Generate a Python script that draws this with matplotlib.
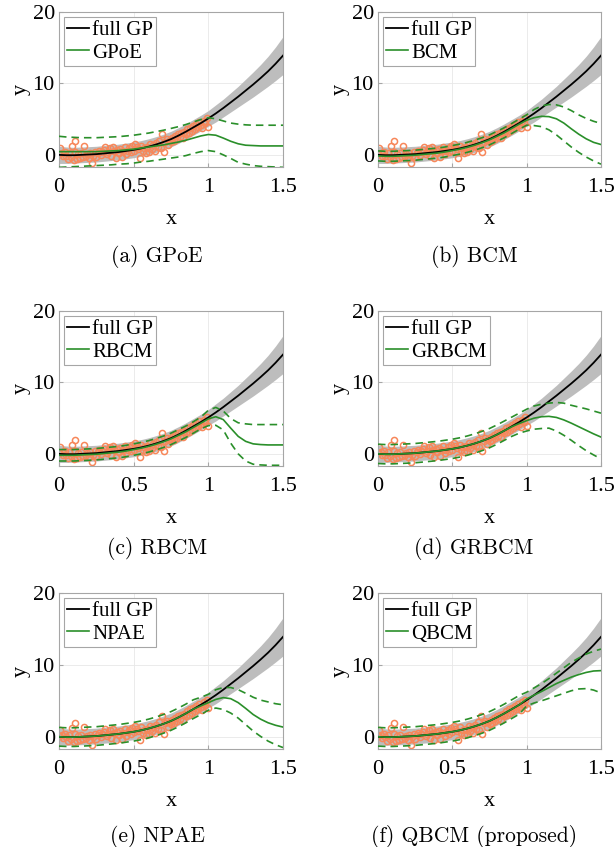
import numpy as np
import matplotlib.pyplot as plt
from matplotlib import font_manager

# prediction grid
xs = [0.0, 0.05, 0.1, 0.15, 0.2, 0.25, 0.3, 0.35, 0.4, 0.45, 0.5, 0.55, 0.6, 0.65, 0.7, 0.75,
      0.8, 0.85, 0.9, 0.95, 1.0, 1.05, 1.1, 1.15, 1.2, 1.25, 1.3, 1.35, 1.4, 1.45, 1.5]

# full GP
gp_mean = [0.0, -0.05, -0.05, 0.0, 0.05, 0.1, 0.2, 0.3, 0.4, 0.55, 0.7, 0.9, 1.15, 1.45, 1.8, 2.2,
           2.7, 3.25, 3.85, 4.45, 5.1, 5.8, 6.55, 7.35, 8.15, 9.0, 9.85, 10.75, 11.7, 12.75, 13.9]
gp_hi = [1.2, 1.1, 1.05, 1.1, 1.15, 1.2, 1.3, 1.4, 1.5, 1.65, 1.8, 2.0, 2.25, 2.55, 2.9, 3.3,
         3.8, 4.35, 4.95, 5.55, 6.2, 7.0, 7.8, 8.7, 9.6, 10.6, 11.6, 12.65, 13.8, 15.1, 16.55]
gp_lo = [-1.2, -1.2, -1.15, -1.1, -1.05, -1.0, -0.9, -0.8, -0.7, -0.55, -0.4, -0.2, 0.05, 0.35, 0.7, 1.1,
         1.6, 2.15, 2.75, 3.35, 4.0, 4.6, 5.3, 6.0, 6.7, 7.4, 8.1, 8.85, 9.6, 10.4, 11.25]

# training data
x_train = [0.0, 0.01, 0.02, 0.03, 0.04, 0.05, 0.06, 0.07, 0.08, 0.09, 0.1, 0.105, 0.11, 0.12, 0.13,
           0.14, 0.15, 0.16, 0.17, 0.18, 0.19, 0.2, 0.21, 0.22, 0.23, 0.24, 0.25, 0.26, 0.27, 0.28,
           0.29, 0.3, 0.31, 0.32, 0.33, 0.34, 0.35, 0.36, 0.37, 0.38, 0.39, 0.4, 0.41, 0.42, 0.43,
           0.44, 0.45, 0.46, 0.47, 0.48, 0.49, 0.5, 0.51, 0.52, 0.53, 0.54, 0.55, 0.56, 0.57, 0.58,
           0.59, 0.6, 0.61, 0.62, 0.63, 0.64, 0.65, 0.66, 0.67, 0.68, 0.69, 0.7, 0.71, 0.72, 0.73,
           0.74, 0.75, 0.76, 0.77, 0.78, 0.79, 0.8, 0.81, 0.82, 0.83, 0.84, 0.85, 0.86, 0.87, 0.88,
           0.89, 0.9, 0.91, 0.92, 0.93, 0.94, 0.95, 0.96, 0.97, 0.98, 0.99, 1.0]
y_train = [0.1, 0.95, 0.3, -0.2, 0.45, -0.1, -0.65, 0.25, -0.35, 1.25, -0.7, 1.95, 0.4, -0.55, 0.05,
           -0.4, 0.2, -0.3, 1.3, -0.2, 0.15, -0.45, 0.3, -1.2, -0.1, 0.45, -0.25, 0.2, 0.55, -0.05,
           0.4, 0.7, 1.1, 0.1, 0.45, 0.95, -0.15, 1.05, 0.5, -0.5, 0.7, 0.3, 0.85, -0.35, 0.55,
           1.15, 0.1, 0.6, 0.95, 0.4, 1.25, 0.6, 1.45, 1.1, 0.75, -0.45, 1.3, 0.55, 0.95, 0.3,
           1.05, 0.45, 1.5, 0.85, 1.35, 0.5, 1.65, 1.1, 2.0, 0.95, 2.95, 0.4, 1.85, 2.25, 1.4,
           2.1, 1.75, 2.4, 1.95, 2.65, 2.2, 2.9, 2.45, 3.0, 2.35, 3.2, 2.85, 3.55, 3.0, 3.8,
           3.3, 4.05, 3.6, 4.3, 3.9, 4.55, 4.2, 3.7, 4.8, 4.4, 5.1, 3.95]

# aggregation methods: mean, upper, lower
gpoe_m = [0.45, 0.45, 0.45, 0.45, 0.45, 0.45, 0.5, 0.55, 0.6, 0.7, 0.8, 0.95, 1.1, 1.25, 1.4, 1.6,
          1.8, 2.05, 2.35, 2.65, 2.85, 2.75, 2.35, 1.9, 1.55, 1.35, 1.3, 1.25, 1.25, 1.25, 1.25]
gpoe_u = [2.6, 2.5, 2.45, 2.4, 2.4, 2.4, 2.45, 2.5, 2.55, 2.65, 2.75, 2.9, 3.05, 3.25, 3.45, 3.7,
          3.95, 4.25, 4.6, 4.95, 5.2, 5.05, 4.75, 4.45, 4.3, 4.2, 4.15, 4.15, 4.15, 4.15, 4.15]
gpoe_l = [-1.75, -1.7, -1.65, -1.6, -1.55, -1.5, -1.45, -1.4, -1.3, -1.25, -1.15, -1.0, -0.9, -0.75, -0.6, -0.45,
          -0.3, -0.1, 0.2, 0.45, 0.6, 0.45, 0.0, -0.5, -1.05, -1.3, -1.5, -1.6, -1.65, -1.7, -1.75]

bcm_m = [-0.15, -0.2, -0.2, -0.15, -0.1, -0.05, 0.05, 0.15, 0.25, 0.4, 0.6, 0.8, 1.05, 1.35, 1.7, 2.1,
         2.6, 3.1, 3.7, 4.3, 4.85, 5.2, 5.4, 5.35, 5.05, 4.45, 3.65, 2.9, 2.25, 1.75, 1.45]
bcm_u = [0.55, 0.5, 0.5, 0.55, 0.6, 0.65, 0.75, 0.85, 0.95, 1.1, 1.3, 1.5, 1.75, 2.05, 2.4, 2.8,
         3.3, 3.8, 4.4, 5.0, 5.6, 6.35, 6.85, 7.05, 7.0, 6.7, 6.2, 5.6, 5.1, 4.7, 4.4]
bcm_l = [-0.85, -0.9, -0.9, -0.85, -0.8, -0.75, -0.65, -0.55, -0.45, -0.3, -0.1, 0.1, 0.35, 0.65, 1.0, 1.4,
         1.9, 2.4, 3.0, 3.6, 4.15, 4.1, 3.95, 3.5, 2.8, 1.95, 1.1, 0.35, -0.3, -0.85, -1.3]

rbcm_m = [-0.2, -0.2, -0.2, -0.15, -0.1, -0.05, 0.05, 0.15, 0.25, 0.4, 0.6, 0.8, 1.05, 1.35, 1.7, 2.1,
          2.6, 3.1, 3.7, 4.3, 4.9, 5.2, 4.8, 3.6, 2.45, 1.75, 1.4, 1.3, 1.25, 1.25, 1.25]
rbcm_u = [0.6, 0.6, 0.6, 0.65, 0.7, 0.75, 0.85, 0.95, 1.05, 1.2, 1.4, 1.6, 1.85, 2.15, 2.5, 2.9,
          3.4, 3.9, 4.5, 5.15, 6.1, 6.5, 6.0, 4.95, 4.35, 4.2, 4.1, 4.1, 4.1, 4.1, 4.1]
rbcm_l = [-1.0, -1.0, -1.0, -0.95, -0.9, -0.85, -0.75, -0.65, -0.55, -0.4, -0.2, 0.0, 0.25, 0.55, 0.9, 1.3,
          1.8, 2.3, 2.9, 3.5, 3.95, 4.0, 3.35, 1.5, 0.0, -1.0, -1.45, -1.55, -1.6, -1.6, -1.6]

grbcm_m = [0.0, -0.05, -0.05, 0.0, 0.05, 0.1, 0.2, 0.3, 0.4, 0.55, 0.7, 0.9, 1.15, 1.45, 1.8, 2.2,
           2.7, 3.25, 3.8, 4.25, 4.65, 5.0, 5.2, 5.25, 5.1, 4.75, 4.3, 3.8, 3.3, 2.8, 2.35]
grbcm_u = [1.35, 1.3, 1.3, 1.35, 1.4, 1.45, 1.55, 1.65, 1.75, 1.9, 2.05, 2.25, 2.5, 2.8, 3.15, 3.55,
           4.05, 4.6, 5.15, 5.7, 6.25, 6.7, 6.95, 7.1, 7.2, 7.1, 6.8, 6.55, 6.3, 6.0, 5.7]
grbcm_l = [-1.35, -1.4, -1.4, -1.35, -1.3, -1.25, -1.15, -1.05, -0.95, -0.8, -0.65, -0.45, -0.2, 0.1, 0.45, 0.85,
           1.35, 1.9, 2.45, 2.9, 3.2, 3.45, 3.55, 3.6, 3.2, 2.6, 1.9, 1.15, 0.45, -0.15, -0.7]

npae_m = [0.0, -0.05, -0.05, 0.0, 0.05, 0.1, 0.2, 0.3, 0.4, 0.55, 0.7, 0.9, 1.15, 1.45, 1.8, 2.2,
          2.7, 3.25, 3.85, 4.3, 4.75, 5.2, 5.45, 5.3, 4.75, 3.95, 3.1, 2.45, 1.95, 1.6, 1.35]
npae_u = [1.3, 1.25, 1.25, 1.3, 1.35, 1.4, 1.5, 1.6, 1.7, 1.85, 2.0, 2.2, 2.45, 2.75, 3.1, 3.5,
          4.0, 4.55, 5.15, 5.5, 5.9, 6.55, 6.85, 6.85, 6.55, 6.05, 5.5, 5.1, 4.85, 4.6, 4.45]
npae_l = [-1.3, -1.35, -1.35, -1.3, -1.25, -1.2, -1.1, -1.0, -0.9, -0.75, -0.6, -0.4, -0.15, 0.15, 0.5, 0.9,
          1.4, 1.95, 2.55, 3.1, 3.7, 4.0, 3.8, 3.3, 2.6, 1.7, 0.8, 0.05, -0.6, -1.1, -1.5]

qbcm_m = [0.0, -0.05, -0.05, 0.0, 0.05, 0.1, 0.2, 0.3, 0.4, 0.55, 0.7, 0.9, 1.15, 1.45, 1.8, 2.2,
          2.7, 3.25, 3.85, 4.45, 5.25, 5.8, 6.3, 6.85, 7.4, 7.85, 8.3, 8.65, 8.95, 9.15, 9.2]
qbcm_u = [1.3, 1.25, 1.25, 1.3, 1.35, 1.4, 1.5, 1.6, 1.7, 1.85, 2.0, 2.2, 2.45, 2.75, 3.1, 3.5,
          4.0, 4.55, 5.15, 5.75, 6.2, 6.8, 7.4, 8.1, 8.85, 9.6, 10.35, 10.95, 11.5, 11.9, 12.2]
qbcm_l = [-1.3, -1.35, -1.35, -1.3, -1.25, -1.2, -1.1, -1.0, -0.9, -0.75, -0.6, -0.4, -0.15, 0.15, 0.5, 0.9,
          1.4, 1.95, 2.55, 3.15, 4.3, 4.7, 5.0, 5.35, 5.7, 6.05, 6.4, 6.65, 6.7, 6.5, 6.1]

names = ["GPoE", "BCM", "RBCM", "GRBCM", "NPAE", "QBCM"]
captions = ["(a) GPoE", "(b) BCM", "(c) RBCM", "(d) GRBCM", "(e) NPAE", "(f) QBCM (proposed)"]
means = [gpoe_m, bcm_m, rbcm_m, grbcm_m, npae_m, qbcm_m]
uppers = [gpoe_u, bcm_u, rbcm_u, grbcm_u, npae_u, qbcm_u]
lowers = [gpoe_l, bcm_l, rbcm_l, grbcm_l, npae_l, qbcm_l]

# Times-like font for the MATLAB-style axes
serif_names = [f.name for f in font_manager.fontManager.ttflist]
serif = "Liberation Serif" if "Liberation Serif" in serif_names else "DejaVu Serif"
plt.rcParams["font.family"] = [serif, "DejaVu Serif"]

W, H = 615, 847
fig = plt.figure(figsize=(W / 100, H / 100), dpi=100)

# axes boxes in pixels: (left, right), (top, bottom)
cols = [(59, 283), (378, 601)]
rows = [(12, 167), (311, 466), (593, 749)]
cap_x = [157, 474]
cap_y = [256, 548, 836]

green = "#2a8f2a"
orange = "#f7875a"

for i in range(6):
    r, c = divmod(i, 2)
    l, rr = cols[c]
    t, b = rows[r]
    ax = fig.add_axes([l / W, 1 - b / H, (rr - l) / W, (b - t) / H])

    ax.fill_between(xs, gp_lo, gp_hi, color="#bdbdbd", lw=0, zorder=1)
    ax.plot(x_train, y_train, "o", mfc="none", mec=orange, ms=4.4, mew=1.1, zorder=2)
    h1, = ax.plot(xs, gp_mean, color="black", lw=1.3, zorder=3)
    h2, = ax.plot(xs, means[i], color=green, lw=1.2, zorder=4)
    ax.plot(xs, uppers[i], color=green, lw=1.2, dashes=(4.5, 3), zorder=4)
    ax.plot(xs, lowers[i], color=green, lw=1.2, dashes=(4.5, 3), zorder=4)

    ax.set_xlim(0, 1.5)
    ax.set_ylim(-1.7, 20)
    ax.set_xticks([0, 0.5, 1, 1.5])
    ax.set_xticklabels(["0", "0.5", "1", "1.5"])
    ax.set_yticks([0, 10, 20])
    ax.grid(True, color="#e8e8e8", lw=0.6)
    ax.set_axisbelow(True)
    for s in ax.spines.values():
        s.set_color("#a6a6a6")
        s.set_linewidth(0.8)
    ax.tick_params(direction="in", length=3, color="#a6a6a6", labelsize=16, pad=8)
    ax.tick_params(axis="y", pad=3)
    ax.set_xlabel("x", fontsize=16, labelpad=9)
    ax.set_ylabel("y", fontsize=16, labelpad=1)

    leg = ax.legend([h1, h2], ["full GP", names[i]], loc="upper left",
                    prop={"size": 15}, handlelength=1.05,
                    handletextpad=0.15, borderpad=0.15, labelspacing=0.15,
                    borderaxespad=0.25, fancybox=False, framealpha=1)
    leg.get_frame().set_edgecolor("#a6a6a6")
    leg.get_frame().set_linewidth(0.8)

    fig.text(cap_x[c] / W, 1 - cap_y[r] / H, captions[i], ha="center", va="center",
             fontsize=15.5, family="cmr10")

fig.savefig("out.png", dpi=100)
